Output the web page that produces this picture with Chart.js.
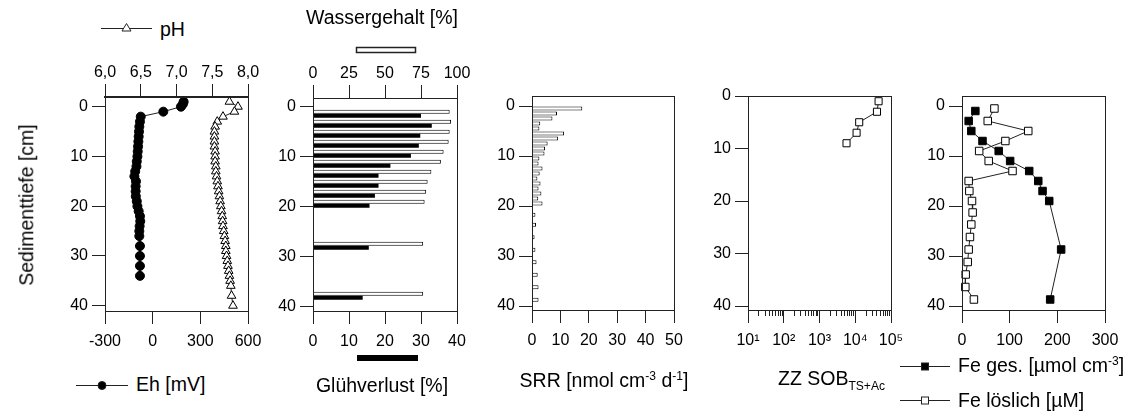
<!DOCTYPE html>
<html lang="de">
<head>
<meta charset="utf-8">
<title>Sedimentprofile</title>
<script src="https://cdn.jsdelivr.net/npm/chart.js@4.4.1/dist/chart.umd.min.js"></script>
<style>
  html, body { margin:0; padding:0; background:#fff; }
  #stage { position:relative; width:1139px; height:415px; overflow:hidden;
           font-family:'Liberation Sans', Arial, sans-serif; color:#000; }
  #stage canvas { position:absolute; }
  #stage svg { position:absolute; left:0; top:0; }
  .lbl { position:absolute; font-size:19.5px; line-height:1; white-space:nowrap; transform:translateY(-50%); }
  .ctr { transform:translate(-50%,-50%); }
  sup, sub { font-size:0.62em; line-height:0; }
  #ytitle { position:absolute; left:27px; top:205px; font-size:19.5px; line-height:1; white-space:nowrap;
            transform:translate(-50%,-50%) rotate(-90deg); }
</style>
</head>
<body>
<div id="stage">
  <!-- Legendensymbole -->
  <svg width="1139" height="415">
    <g stroke="#222" stroke-width="1" fill="none">
      <line x1="101" y1="28.5" x2="152" y2="28.5"/>
      <polygon points="126.5,23.5 131,31 122,31" fill="#fff"/>
      <line x1="76" y1="385.5" x2="128" y2="385.5"/>
      <circle cx="102" cy="385.5" r="4" fill="#000"/>
      <rect x="356.5" y="47.5" width="59" height="5" fill="#fff" stroke-width="1.5"/>
      <rect x="357" y="355" width="61" height="6" fill="#000" stroke="none"/>
      <line x1="900" y1="366.5" x2="950" y2="366.5"/>
      <rect x="921.5" y="363" width="7" height="7" fill="#000"/>
      <line x1="900" y1="400.5" x2="950" y2="400.5"/>
      <rect x="921.5" y="397" width="7" height="7" fill="#fff"/>
    </g>
  </svg>

  <canvas id="c1"></canvas>
  <canvas id="c2"></canvas>
  <canvas id="c3"></canvas>
  <canvas id="c4"></canvas>
  <canvas id="c5"></canvas>

  <div id="ytitle">Sedimenttiefe [cm]</div>
  <div class="lbl" style="left:160px;top:30px">pH</div>
  <div class="lbl" style="left:136px;top:385px">Eh [mV]</div>
  <div class="lbl ctr" style="left:382px;top:18px">Wassergehalt [%]</div>
  <div class="lbl ctr" style="left:382px;top:386px">Glühverlust [%]</div>
  <div class="lbl ctr" style="left:604px;top:381px">SRR [nmol cm<sup>-3</sup> d<sup>-1</sup>]</div>
  <div class="lbl" style="left:778px;top:379px">ZZ SOB<sub>TS+Ac</sub></div>
  <div class="lbl" style="left:958px;top:366px">Fe ges. [µmol cm<sup>-3</sup>]</div>
  <div class="lbl" style="left:958px;top:401px">Fe löslich [µM]</div>
</div>

<script>
/* ------------------ Daten ------------------ */
// Panel 1: Redoxpotential und pH gegen Tiefe [cm]
const ehDepth = [-1, -0.5, 0, 1, 2, 3, 4, 5, 6, 7, 8, 9, 10, 11, 12, 13, 14, 15, 16, 17,
                 18, 19, 20, 21, 22, 23, 24, 25, 26, 28, 30, 32, 34];
const ehMv    = [195, 190, 178, 67, -75, -80, -84, -86, -88, -90, -92, -94, -96, -100, -102, -110, -115, -105, -107, -107,
                 -106, -100, -96, -88, -80, -78, -82, -84, -84, -80, -80, -80, -80];
const phDepth = [-1, 0, 1, 2, 3, 4, 5, 6, 7, 8, 9, 10, 11, 12, 13, 14, 15, 16, 17, 18, 19, 20,
                 21, 22, 23, 24, 25, 26, 27, 28, 29, 30, 31, 32, 33, 34, 35, 36, 38, 40];
const phVal   = [7.74, 7.86, 7.81, 7.65, 7.57, 7.54, 7.53, 7.53, 7.53, 7.53, 7.54, 7.54, 7.54, 7.55, 7.55, 7.56, 7.57, 7.58, 7.59, 7.60, 7.61, 7.62,
                 7.63, 7.64, 7.645, 7.65, 7.66, 7.67, 7.68, 7.69, 7.69, 7.70, 7.71, 7.72, 7.73, 7.74, 7.75, 7.76, 7.77, 7.79];

// Panel 2: Wassergehalt (oben, %) und Glühverlust (unten, %)
const probeDepth   = [1.4, 3.4, 5.4, 7.4, 9.4, 11.4, 13.4, 15.4, 17.4, 19.4, 27.8, 37.8];
const wassergehalt = [94.9, 95.9, 94.9, 94.2, 90.7, 88.8, 82.2, 79.6, 78.6, 77.5, 76.5, 76.5];
const gluehverlust = [30.0, 33.0, 29.8, 29.4, 27.2, 21.5, 18.2, 18.2, 17.2, 15.7, 15.5, 13.8];

// Panel 3: Sulfatreduktionsrate
const srrDepth = [0.5, 1.5, 2.5, 3.5, 4.5, 5.5, 6.5, 7.5, 8.5, 9.5, 10.5, 11.5, 12.5, 13.5,
                  14.5, 15.5, 16.5, 17.5, 18.5, 19.5, 21.75, 23.75, 26.25, 28.75, 31.25, 33.75, 36.25, 38.75];
const srrRate  = [17.7, 8.8, 7.2, 2.9, 2.6, 11.3, 9.2, 5.5, 4.6, 4.4, 2.6, 2.3, 3.7, 2.7,
                  1.9, 3.0, 2.3, 3.3, 2.2, 3.7, 1.2, 1.4, 0.9, 1.2, 1.6, 2.0, 2.3, 2.3];

// Panel 4: Zellzahl SOB (log)
const zzDepth = [1, 3, 5, 7, 9];
const zzSob   = [45000, 40500, 12900, 10900, 5700];

// Panel 5: Eisen
const feGesDepth  = [1, 3, 5, 7, 9, 11, 13, 15, 17, 19, 28.7, 38.7];
const feGes       = [28, 14, 19.5, 43, 77, 101, 141, 160, 169, 183, 208, 185];
const feLoesDepth = [0.5, 3, 5, 7, 9, 11, 13, 15, 17, 19, 21.3, 23.7, 26.2, 28.7, 31.2, 33.7, 36.2, 38.7];
const feLoes      = [68, 54, 139, 91, 36, 56, 106, 14, 15.4, 21, 22.3, 19.5, 16.7, 14, 12, 7.7, 7, 25];

// Achsenbeschriftungen
const depthTicks  = [0, 10, 20, 30, 40];
const phTicks     = [6.0, 6.5, 7.0, 7.5, 8.0];
const ehTicks     = [-300, 0, 300, 600];
const wasserTicks = [0, 25, 50, 75, 100];
const gluehTicks  = [0, 10, 20, 30, 40];
const srrTicks    = [0, 10, 20, 30, 40, 50];
const logMajor    = [10, 100, 1000, 10000, 100000];
const feTicks     = [0, 100, 200, 300];

/* ------------------ Layout ------------------ */
const FONT  = "'Liberation Sans', Arial, sans-serif";
const INK   = '#222';
const TICK  = 13;
const Y_W   = 70;   // Breite der Tiefenachse
const TOP_H = 40;   // Höhe einer oberen x-Achse
const BOT_H = 50;   // Höhe der unteren x-Achse
const PAD_R = 25;

const panels = {
  p1: {L:105, T:97, R:248,  B:311, yMin:-1.95, yMax:41.06, top:true},
  p2: {L:313, T:98, R:457,  B:311, yMin:-1.74, yMax:40.86, top:true},
  p3: {L:532, T:96, R:674,  B:310, yMin:-2.0,  yMax:40.8},
  p4: {L:748, T:96, R:891,  B:310, yMin:0,     yMax:40.76},
  p5: {L:962, T:96, R:1105, B:310, yMin:-2.0,  yMax:40.8}
};

function place(id, p) {
  const c = document.getElementById(id);
  const topH = p.top ? TOP_H : 15;
  c.width  = (p.R - p.L) + Y_W + PAD_R;
  c.height = (p.B - p.T) + topH + BOT_H;
  c.style.left = (p.L - Y_W) + 'px';
  c.style.top  = (p.T - topH) + 'px';
  return c;
}

const pts = (xs, ys) => xs.map((x, i) => ({x, y: ys[i]}));
const fixTicks = arr => s => { s.ticks = arr.map(v => ({value: v})); };
const tickFont = {family: FONT, size: 16};

function depthScale(p) {
  return {
    type: 'linear', position: 'left', reverse: true, min: p.yMin, max: p.yMax,
    offset: false,
    afterFit: s => { s.width = Y_W; },
    afterBuildTicks: fixTicks(depthTicks),
    border: {color: INK, width: 1},
    grid: {drawOnChartArea: false, offset: false, tickLength: TICK, tickColor: INK},
    ticks: {color: '#000', font: tickFont, padding: 4}
  };
}

function valueScale(pos, min, max, tickArr, fmt, borderW) {
  return {
    type: 'linear', position: pos, min, max,
    afterFit: s => { s.height = pos === 'top' ? TOP_H : BOT_H; },
    afterBuildTicks: fixTicks(tickArr),
    border: {color: INK, width: borderW || 1},
    grid: {drawOnChartArea: false, tickLength: TICK, tickColor: INK},
    ticks: {color: '#000', font: tickFont, padding: pos === 'top' ? 2 : 8,
            maxRotation: 0, autoSkip: false, callback: fmt || (v => v)}
  };
}

// Rahmen um den Plotbereich
const framePlugin = {
  id: 'frame',
  afterDatasetsDraw(chart) {
    const {ctx, chartArea: a} = chart;
    const px = v => Math.round(v - 0.5) + 0.5;
    ctx.save();
    ctx.strokeStyle = INK;
    ctx.lineWidth = 1;
    ctx.strokeRect(px(a.left), px(a.top), px(a.right) - px(a.left), px(a.bottom) - px(a.top));
    ctx.restore();
  }
};

function baseOptions(p) {
  return {
    responsive: false, animation: false,
    layout: {padding: {top: p.top ? 0 : 15, right: PAD_R, left: 0, bottom: 0}},
    plugins: {legend: {display: false}, tooltip: {enabled: false}}
  };
}

const lineStyle = {showLine: true, borderColor: INK, borderWidth: 1, clip: false,
                   pointBorderColor: '#000', pointBorderWidth: 1};
const openBar = {backgroundColor: '#fff', borderColor: '#000', borderWidth: 1,
                 barThickness: 4, inflateAmount: 0};

/* ------------------ Panel 1: Eh / pH ------------------ */
new Chart(place('c1', panels.p1), {
  type: 'scatter',
  data: {datasets: [
    {...lineStyle, data: pts(ehMv, ehDepth), xAxisID: 'xe', yAxisID: 'y',
     pointStyle: 'circle', pointRadius: 4.5, pointBackgroundColor: '#000'},
    {...lineStyle, data: pts(phVal, phDepth), xAxisID: 'xp', yAxisID: 'y',
     pointStyle: 'triangle', pointRadius: 5, pointBackgroundColor: '#fff'}
  ]},
  options: {...baseOptions(panels.p1), scales: {
    y: depthScale(panels.p1),
    xe: valueScale('bottom', -300, 600, ehTicks),
    xp: valueScale('top', 6, 8, phTicks, v => v.toFixed(1).replace('.', ','), 2)
  }},
  plugins: [framePlugin]
});

/* ------------------ Panel 2: Wassergehalt / Glühverlust ------------------ */
new Chart(place('c2', panels.p2), {
  type: 'bar',
  data: {datasets: [
    {...openBar, data: pts(wassergehalt, probeDepth), xAxisID: 'xw', yAxisID: 'y', stack: 'w'},
    {data: pts(gluehverlust, probeDepth), xAxisID: 'xg', yAxisID: 'y', stack: 'g',
     backgroundColor: '#000', borderWidth: 0, barThickness: 4, inflateAmount: 0}
  ]},
  options: {...baseOptions(panels.p2), indexAxis: 'y', scales: {
    y: {...depthScale(panels.p2), stacked: false},
    xw: valueScale('top', 0, 100, wasserTicks),
    xg: valueScale('bottom', 0, 40, gluehTicks)
  }},
  plugins: [framePlugin]
});

/* ------------------ Panel 3: SRR ------------------ */
new Chart(place('c3', panels.p3), {
  type: 'bar',
  data: {datasets: [
    {...openBar, data: pts(srrRate, srrDepth), xAxisID: 'x', yAxisID: 'y'}
  ]},
  options: {...baseOptions(panels.p3), indexAxis: 'y', scales: {
    y: depthScale(panels.p3),
    x: valueScale('bottom', 0, 50, srrTicks)
  }},
  plugins: [framePlugin]
});

/* ------------------ Panel 4: ZZ SOB (log) ------------------ */
const supDigits = {1: '¹', 2: '²', 3: '³', 4: '⁴', 5: '⁵'};
new Chart(place('c4', panels.p4), {
  type: 'scatter',
  data: {datasets: [
    {...lineStyle, data: pts(zzSob, zzDepth), xAxisID: 'x', yAxisID: 'y',
     pointStyle: 'rect', pointRadius: 5, pointBackgroundColor: '#fff'}
  ]},
  options: {...baseOptions(panels.p4), scales: {
    y: depthScale(panels.p4),
    x: {
      type: 'logarithmic', position: 'bottom', min: 10, max: 100000,
      afterFit: s => { s.height = BOT_H; },
      afterBuildTicks: s => {
        const t = [];
        logMajor.forEach((m, i) => {
          t.push({value: m, major: true});
          if (i < logMajor.length - 1) for (let k = 2; k < 10; k++) t.push({value: m * k, major: false});
        });
        s.ticks = t;
      },
      border: {color: INK, width: 1},
      grid: {drawOnChartArea: false, tickLength: TICK, tickColor: INK,
             tickBorderDash: c => (c.tick && c.tick.major) ? [] : [5, 30]},
      ticks: {color: '#000', font: tickFont, padding: 8, maxRotation: 0, autoSkip: false,
              callback: (v, i, t) => t[i].major ? '10' + supDigits[Math.round(Math.log10(v))] : ''}
    }
  }},
  plugins: [framePlugin]
});

/* ------------------ Panel 5: Eisen ------------------ */
new Chart(place('c5', panels.p5), {
  type: 'scatter',
  data: {datasets: [
    {...lineStyle, data: pts(feGes, feGesDepth), xAxisID: 'x', yAxisID: 'y',
     pointStyle: 'rect', pointRadius: 5.3, pointBackgroundColor: '#000'},
    {...lineStyle, data: pts(feLoes, feLoesDepth), xAxisID: 'x', yAxisID: 'y',
     pointStyle: 'rect', pointRadius: 5.3, pointBackgroundColor: '#fff'}
  ]},
  options: {...baseOptions(panels.p5), scales: {
    y: depthScale(panels.p5),
    x: valueScale('bottom', 0, 300, feTicks)
  }},
  plugins: [framePlugin]
});
</script>
</body>
</html>
